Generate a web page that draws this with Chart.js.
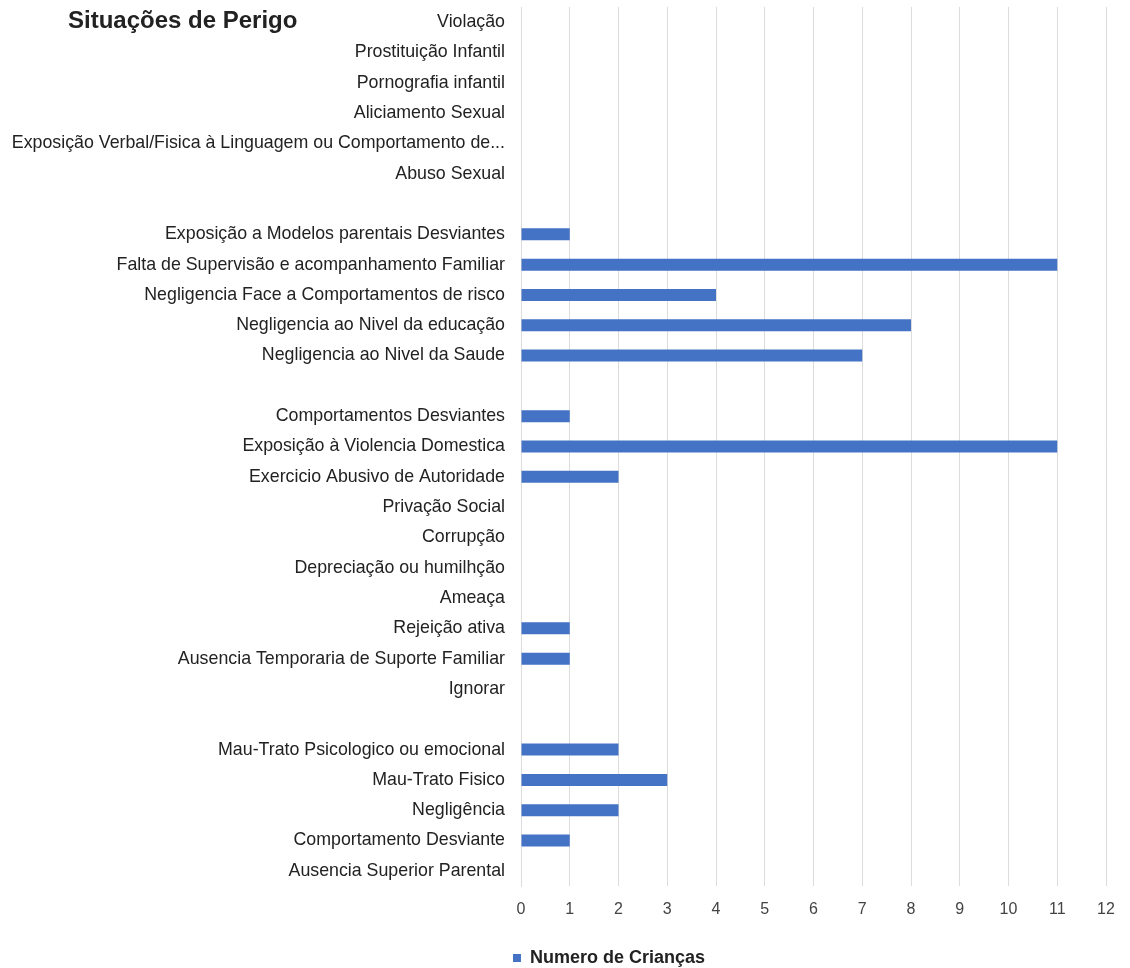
<!DOCTYPE html>
<html>
<head>
<meta charset="utf-8">
<script src="https://cdn.jsdelivr.net/npm/chart.js@4/dist/chart.umd.min.js"></script>
<style>
  body { margin: 0; background: #fff; }
  #wrap { position: relative; width: 1130px; height: 968px; }
  #title {
    position: absolute; left: 68px; top: 7px;
    font: bold 24px "Liberation Sans", Arial, sans-serif;
    color: #222; line-height: 26px;
  }
</style>
</head>
<body>
<div id="wrap">
  <canvas id="myChart"></canvas>
  <div id="title">Situações de Perigo</div>
</div>
<script>
// categories top to bottom, "" = spacer rows between groups
const categories = [
  "Violação",
  "Prostituição Infantil",
  "Pornografia infantil",
  "Aliciamento Sexual",
  "Exposição Verbal/Fisica à Linguagem ou Comportamento de...",
  "Abuso Sexual",
  "",
  "Exposição a Modelos parentais Desviantes",
  "Falta de Supervisão e acompanhamento Familiar",
  "Negligencia Face a Comportamentos de risco",
  "Negligencia ao Nivel da educação",
  "Negligencia ao Nivel da Saude",
  "",
  "Comportamentos Desviantes",
  "Exposição à Violencia Domestica",
  "Exercicio Abusivo de Autoridade",
  "Privação Social",
  "Corrupção",
  "Depreciação ou humilhção",
  "Ameaça",
  "Rejeição ativa",
  "Ausencia Temporaria de Suporte Familiar",
  "Ignorar",
  "",
  "Mau-Trato Psicologico ou emocional",
  "Mau-Trato Fisico",
  "Negligência",
  "Comportamento Desviante",
  "Ausencia Superior Parental"
];
const numeroCriancas = [0, 0, 0, 0, 0, 0, null, 1, 11, 4, 8, 7, null, 1, 11, 2, 0, 0, 0, 0, 1, 1, 0, null, 2, 3, 2, 1, 0];
const seriesName = "Numero de Crianças";
const xMin = 0, xMax = 12, xStep = 1;

// nudge the legend right/down, like the original sheet export
const legendShift = {
  id: 'legendShift',
  afterLayout(chart) {
    const lg = chart.legend;
    lg.left += 56;
    lg.right += 56;
    lg.top += 9;
    lg.bottom += 9;
  }
};

var ctx = document.getElementById('myChart').getContext('2d');
var myChart = new Chart(ctx, {
  type: 'bar',
  data: {
    labels: categories,
    datasets: [{
      label: seriesName,
      data: numeroCriancas,
      backgroundColor: '#4472c4',
      borderWidth: 0,
      inflateAmount: 0,
      barThickness: 12
    }]
  },
  options: {
    indexAxis: 'y',
    responsive: true,
    maintainAspectRatio: false,
    animation: false,
    layout: { padding: { top: 7, left: 0, right: 24, bottom: 0 } },
    scales: {
      x: {
        min: xMin,
        max: xMax,
        ticks: {
          stepSize: xStep,
          padding: 14,
          color: '#444',
          font: { family: '"Liberation Sans", Arial, sans-serif', size: 16 }
        },
        grid: { color: '#dcdcdc', drawTicks: false },
        border: { display: false },
        afterFit: (axis) => { axis.height = 54; }
      },
      y: {
        ticks: {
          autoSkip: false,
          padding: 16,
          color: '#222',
          font: { family: '"Liberation Sans", Arial, sans-serif', size: 17.8 }
        },
        grid: { display: false, drawTicks: false },
        border: { display: true, color: '#dcdcdc' },
        afterFit: (axis) => {
          axis.width = 521;
          axis.paddingTop = 0;
          axis.paddingBottom = 0;
        }
      }
    },
    plugins: {
      legend: {
        position: 'bottom',
        labels: {
          boxWidth: 8,
          boxHeight: 8,
          padding: 0,
          color: '#222',
          font: { family: '"Liberation Sans", Arial, sans-serif', size: 18, weight: 'bold' }
        }
      },
      tooltip: { enabled: false }
    }
  },
  plugins: [legendShift]
});
</script>
</body>
</html>
